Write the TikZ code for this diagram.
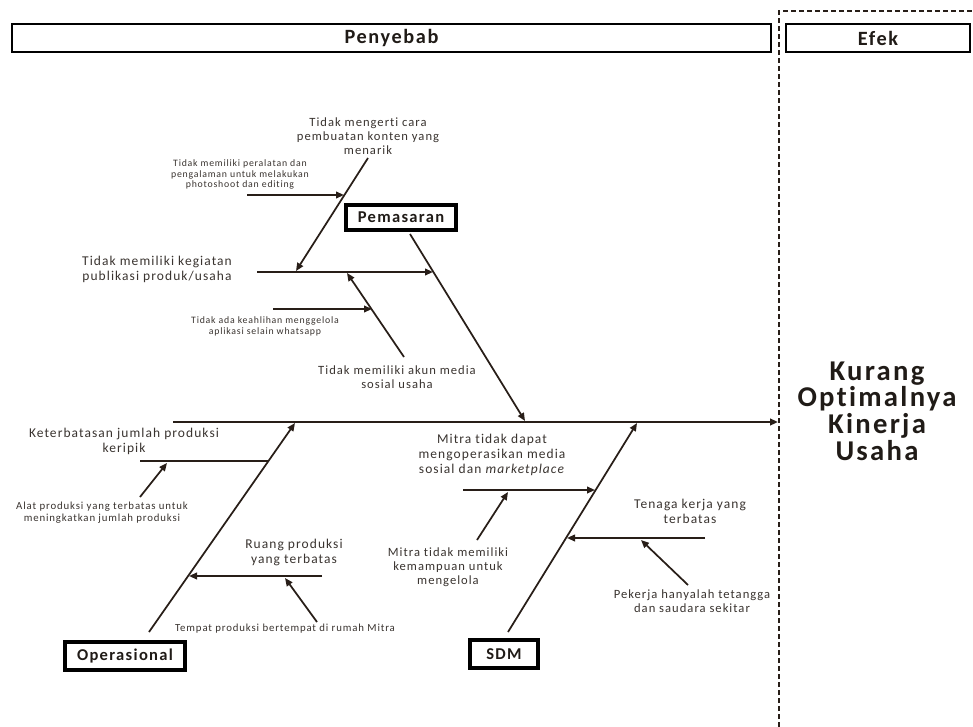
\documentclass[tikz,border=0pt]{standalone}
\usepackage{fontspec}
\setmainfont{Carlito}[LetterSpace=8,Ligatures={NoCommon,NoRequired}]
\usetikzlibrary{arrows.meta,calc}
\definecolor{linec}{RGB}{40,30,24}
\definecolor{labc}{RGB}{58,52,48}
\definecolor{boxc}{RGB}{32,27,23}
\newcommand\fsz[2]{\fontsize{#1}{#2}\selectfont}
\begin{document}
\begin{tikzpicture}[x=0.75pt,y=-0.75pt,
  bone/.style={draw=linec,line width=1.3pt},
  arr/.style={bone,-{Triangle[length=6pt,width=5pt]}},
  lab/.style={text=labc,align=center,inner sep=0pt},
  catbox/.style={draw=black,line width=3pt,fill=white,text=boxc,font=\fsz{12.4}{14}\bfseries,inner sep=0pt},
  headbox/.style={draw=black,line width=1.5pt,text=boxc,font=\fsz{15.2}{17}\bfseries,inner sep=0pt},
  fA/.style={font=\fsz{10.1}{11.25}},
  fB/.style={font=\fsz{9.45}{10.5}},
  fC/.style={font=\fsz{8.1}{9}},
  fD/.style={font=\fsz{7.35}{8.2}}
]
\useasboundingbox[fill=white] (0,0) rectangle (973,727);

% headers
\node[headbox,minimum width=569pt,minimum height=21pt] (penyebab) at (391.5,38) {Penyebab};
\node[headbox,minimum width=138pt,minimum height=21pt] (efek) at (878,38) {Efek};
\coordinate (dA) at (779,727);
\coordinate (dB) at (779,11);
\coordinate (dC) at (973,11);
\draw[linec,line width=1.5pt,dash pattern=on 3.75pt off 2.25pt] (dA) -- (dB) -- (dC);

% effect
\node[text=boxc,align=center,inner sep=0pt,font=\fsz{21.5}{20}\bfseries] (effect) at (877,411)
  {Kurang\\Optimalnya\\Kinerja\\Usaha};

% spine
\coordinate (sp0) at (173,422);
\coordinate (sp1) at (778,422);
\draw[arr,line width=1.7pt] (sp0) -- (sp1);

% ===== Pemasaran =====
\node[catbox,minimum width=82.5pt,minimum height=18.75pt] (pem) at (401,217.5) {Pemasaran};
\coordinate (pem0) at (410,234);
\coordinate (pem1) at (525,421);
\draw[arr] (pem0) -- (pem1);

\coordinate (pa0) at (257,272);
\coordinate (pa1) at (433,272);
\draw[arr] (pa0) -- (pa1);
\node[lab,fA] (tpa) at (157,269.5) {Tidak memiliki kegiatan\\publikasi produk/usaha};

\coordinate (pb0) at (368,158);
\coordinate (pb1) at (296,271);
\draw[arr] (pb0) -- (pb1);
\node[lab,fB] (tpb) at (368,136) {Tidak mengerti cara\\pembuatan konten yang\\menarik};

\coordinate (pbb0) at (247,195);
\coordinate (pbb1) at (344,195);
\draw[arr] (pbb0) -- (pbb1);
\node[lab,fD] (tpbb) at (240,174.5) {Tidak memiliki peralatan dan\\pengalaman untuk melakukan\\photoshoot dan editing};

\coordinate (pc0) at (404,357);
\coordinate (pc1) at (347,273);
\draw[arr] (pc0) -- (pc1);
\node[lab,fB] (tpc) at (397,377.5) {Tidak memiliki akun media\\sosial usaha};

\coordinate (pcc0) at (273,309);
\coordinate (pcc1) at (372,309);
\draw[arr] (pcc0) -- (pcc1);
\node[lab,fD] (tpcc) at (265,326) {Tidak ada keahlihan menggelola\\aplikasi selain whatsapp};

% ===== Operasional =====
\node[catbox,minimum width=90pt,minimum height=21pt] (ops) at (125,656) {Operasional};
\coordinate (op0) at (149,632);
\coordinate (op1) at (295,423);
\draw[arr] (op0) -- (op1);

\coordinate (oa0) at (140,461);
\coordinate (oa1) at (268,461);
\draw[bone] (oa0) -- (oa1);
\node[lab,fA] (toa) at (124,441.5) {Keterbatasan jumlah produksi\\keripik};

\coordinate (oaa0) at (140,497);
\coordinate (oaa1) at (167,463);
\draw[arr] (oaa0) -- (oaa1);
\node[lab,fC] (toaa) at (102,512.5) {Alat produksi yang terbatas untuk\\meningkatkan jumlah produksi};

\coordinate (ob0) at (322,576);
\coordinate (ob1) at (189,576);
\draw[arr] (ob0) -- (ob1);
\node[lab,fA] (tob) at (294,552.5) {Ruang produksi\\yang terbatas};

\coordinate (obb0) at (317,622);
\coordinate (obb1) at (285,578);
\draw[arr] (obb0) -- (obb1);
\node[lab,fC] (tobb) at (285,629) {Tempat produksi bertempat di rumah Mitra};

% ===== SDM =====
\node[catbox,minimum width=51pt,minimum height=21pt] (sdm) at (504,654) {SDM};
\coordinate (sd0) at (508,632);
\coordinate (sd1) at (637,423);
\draw[arr] (sd0) -- (sd1);

\coordinate (sa0) at (463,490);
\coordinate (sa1) at (595,490);
\draw[arr] (sa0) -- (sa1);
\node[lab,fA] (tsa) at (492,455) {Mitra tidak dapat\\mengoperasikan media\\sosial dan \textit{marketplace}};

\coordinate (saa0) at (477,540);
\coordinate (saa1) at (508,492);
\draw[arr] (saa0) -- (saa1);
\node[lab,fB] (tsaa) at (448,567) {Mitra tidak memiliki\\kemampuan untuk\\mengelola};

\coordinate (sb0) at (705,538);
\coordinate (sb1) at (567,538);
\draw[arr] (sb0) -- (sb1);
\node[lab,fA] (tsb) at (690,511.5) {Tenaga kerja yang\\terbatas};

\coordinate (sbb0) at (688,585);
\coordinate (sbb1) at (641,540);
\draw[arr] (sbb0) -- (sbb1);
\node[lab,fB] (tsbb) at (692,601.5) {Pekerja hanyalah tetangga\\dan saudara sekitar};

\end{tikzpicture}
\end{document}
